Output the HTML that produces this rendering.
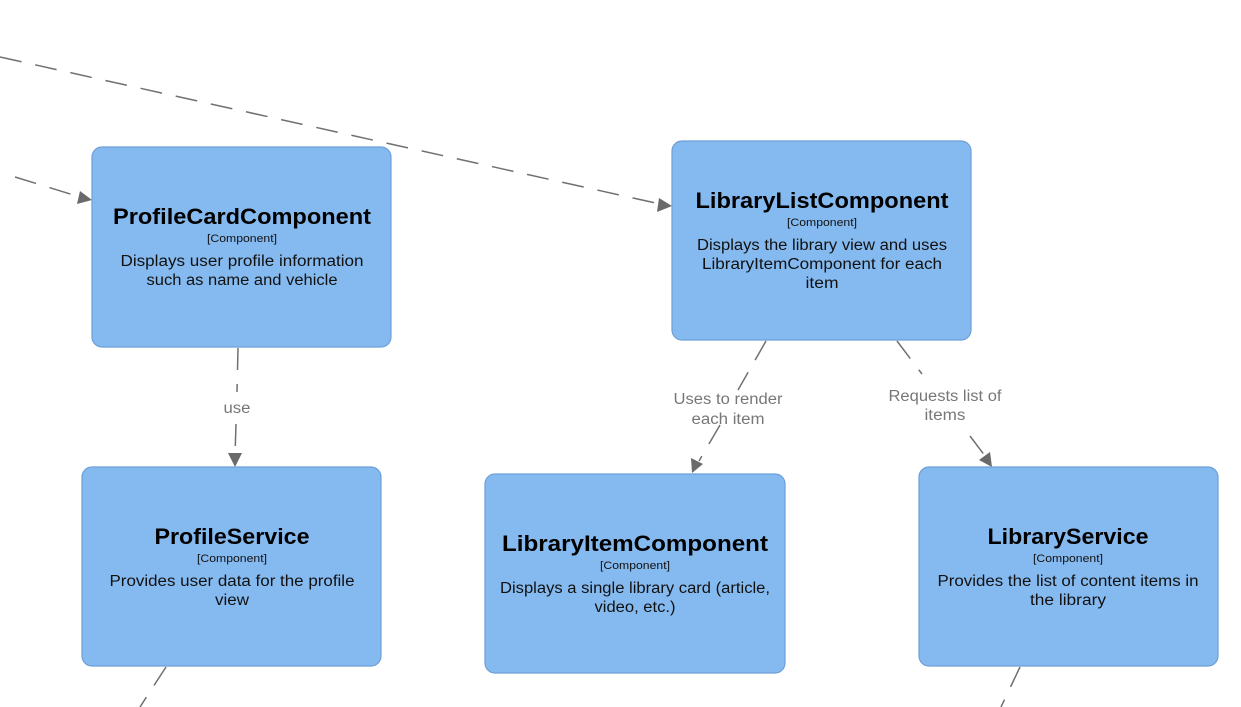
<!DOCTYPE html>
<html><head><meta charset="utf-8"><style>
html,body{margin:0;padding:0;background:#fff;}
svg{display:block;font-family:"Liberation Sans",sans-serif;}
.box{fill:#85baf0;stroke:#6c9fd6;stroke-width:1.2;}
.t{font-weight:bold;font-size:22px;fill:#000;text-anchor:middle;}
.c{font-size:11px;fill:#111;text-anchor:middle;}
.d{font-size:15.5px;fill:#111;text-anchor:middle;}
.l{font-size:15.5px;fill:#777;text-anchor:middle;}
.ln{stroke:#707070;stroke-width:1.5;fill:none;stroke-dasharray:22 14;}
.ah{fill:#6a6a6a;}
</style></head><body>
<svg width="1241" height="707" viewBox="0 0 1241 707">
<path class="ln" d="M0 57 L660 204"/>
<polygon class="ah" points="672,206 657,212 659,198"/>
<path class="ln" d="M15 177 L80 197"/>
<polygon class="ah" points="92,200 77,204 80,191"/>
<path class="ln" d="M238 348 L237 392 M236 424 L235 455"/>
<polygon class="ah" points="235,467 228,453 242,453"/>
<path class="ln" d="M766 341 L738 390 M720 425 L699 461"/>
<polygon class="ah" points="692,473 691,458 703,464"/>
<path class="ln" d="M897 341 L922 374 M970 436 L985 456"/>
<polygon class="ah" points="992,467 979,460 990,452"/>
<path class="ln" d="M166 667 L140 707"/>
<path class="ln" d="M1020 667 L1001 707"/>
<rect class="box" x="92" y="147" width="299" height="200" rx="10"/>
<rect class="box" x="672" y="141" width="299" height="199" rx="10"/>
<rect class="box" x="82" y="467" width="299" height="199" rx="10"/>
<rect class="box" x="485" y="474" width="300" height="199" rx="10"/>
<rect class="box" x="919" y="467" width="299" height="199" rx="10"/>
<g lengthAdjust="spacingAndGlyphs">
<text class="t" x="242" y="224" textLength="258" lengthAdjust="spacingAndGlyphs">ProfileCardComponent</text>
<text class="c" x="242" y="242" textLength="70" lengthAdjust="spacingAndGlyphs">[Component]</text>
<text class="d" x="242" y="266" textLength="243" lengthAdjust="spacingAndGlyphs">Displays user profile information</text>
<text class="d" x="242" y="285" textLength="191" lengthAdjust="spacingAndGlyphs">such as name and vehicle</text>
<text class="t" x="822" y="208" textLength="253" lengthAdjust="spacingAndGlyphs">LibraryListComponent</text>
<text class="c" x="822" y="226" textLength="70" lengthAdjust="spacingAndGlyphs">[Component]</text>
<text class="d" x="822" y="250" textLength="250" lengthAdjust="spacingAndGlyphs">Displays the library view and uses</text>
<text class="d" x="822" y="269" textLength="240" lengthAdjust="spacingAndGlyphs">LibraryItemComponent for each</text>
<text class="d" x="822" y="288" textLength="33" lengthAdjust="spacingAndGlyphs">item</text>
<text class="t" x="232" y="544" textLength="155" lengthAdjust="spacingAndGlyphs">ProfileService</text>
<text class="c" x="232" y="562" textLength="70" lengthAdjust="spacingAndGlyphs">[Component]</text>
<text class="d" x="232" y="586" textLength="245" lengthAdjust="spacingAndGlyphs">Provides user data for the profile</text>
<text class="d" x="232" y="605" textLength="34" lengthAdjust="spacingAndGlyphs">view</text>
<text class="t" x="635" y="551" textLength="266" lengthAdjust="spacingAndGlyphs">LibraryItemComponent</text>
<text class="c" x="635" y="569" textLength="70" lengthAdjust="spacingAndGlyphs">[Component]</text>
<text class="d" x="635" y="593" textLength="270" lengthAdjust="spacingAndGlyphs">Displays a single library card (article,</text>
<text class="d" x="635" y="612" textLength="81" lengthAdjust="spacingAndGlyphs">video, etc.)</text>
<text class="t" x="1068" y="544" textLength="161" lengthAdjust="spacingAndGlyphs">LibraryService</text>
<text class="c" x="1068" y="562" textLength="70" lengthAdjust="spacingAndGlyphs">[Component]</text>
<text class="d" x="1068" y="586" textLength="261" lengthAdjust="spacingAndGlyphs">Provides the list of content items in</text>
<text class="d" x="1068" y="605" textLength="76" lengthAdjust="spacingAndGlyphs">the library</text>
<text class="l" x="237" y="413" textLength="27" lengthAdjust="spacingAndGlyphs">use</text>
<text class="l" x="728" y="404" textLength="109" lengthAdjust="spacingAndGlyphs">Uses to render</text>
<text class="l" x="728" y="424" textLength="73" lengthAdjust="spacingAndGlyphs">each item</text>
<text class="l" x="945" y="401" textLength="113" lengthAdjust="spacingAndGlyphs">Requests list of</text>
<text class="l" x="945" y="420" textLength="41" lengthAdjust="spacingAndGlyphs">items</text>
</g>
</svg>
</body></html>
